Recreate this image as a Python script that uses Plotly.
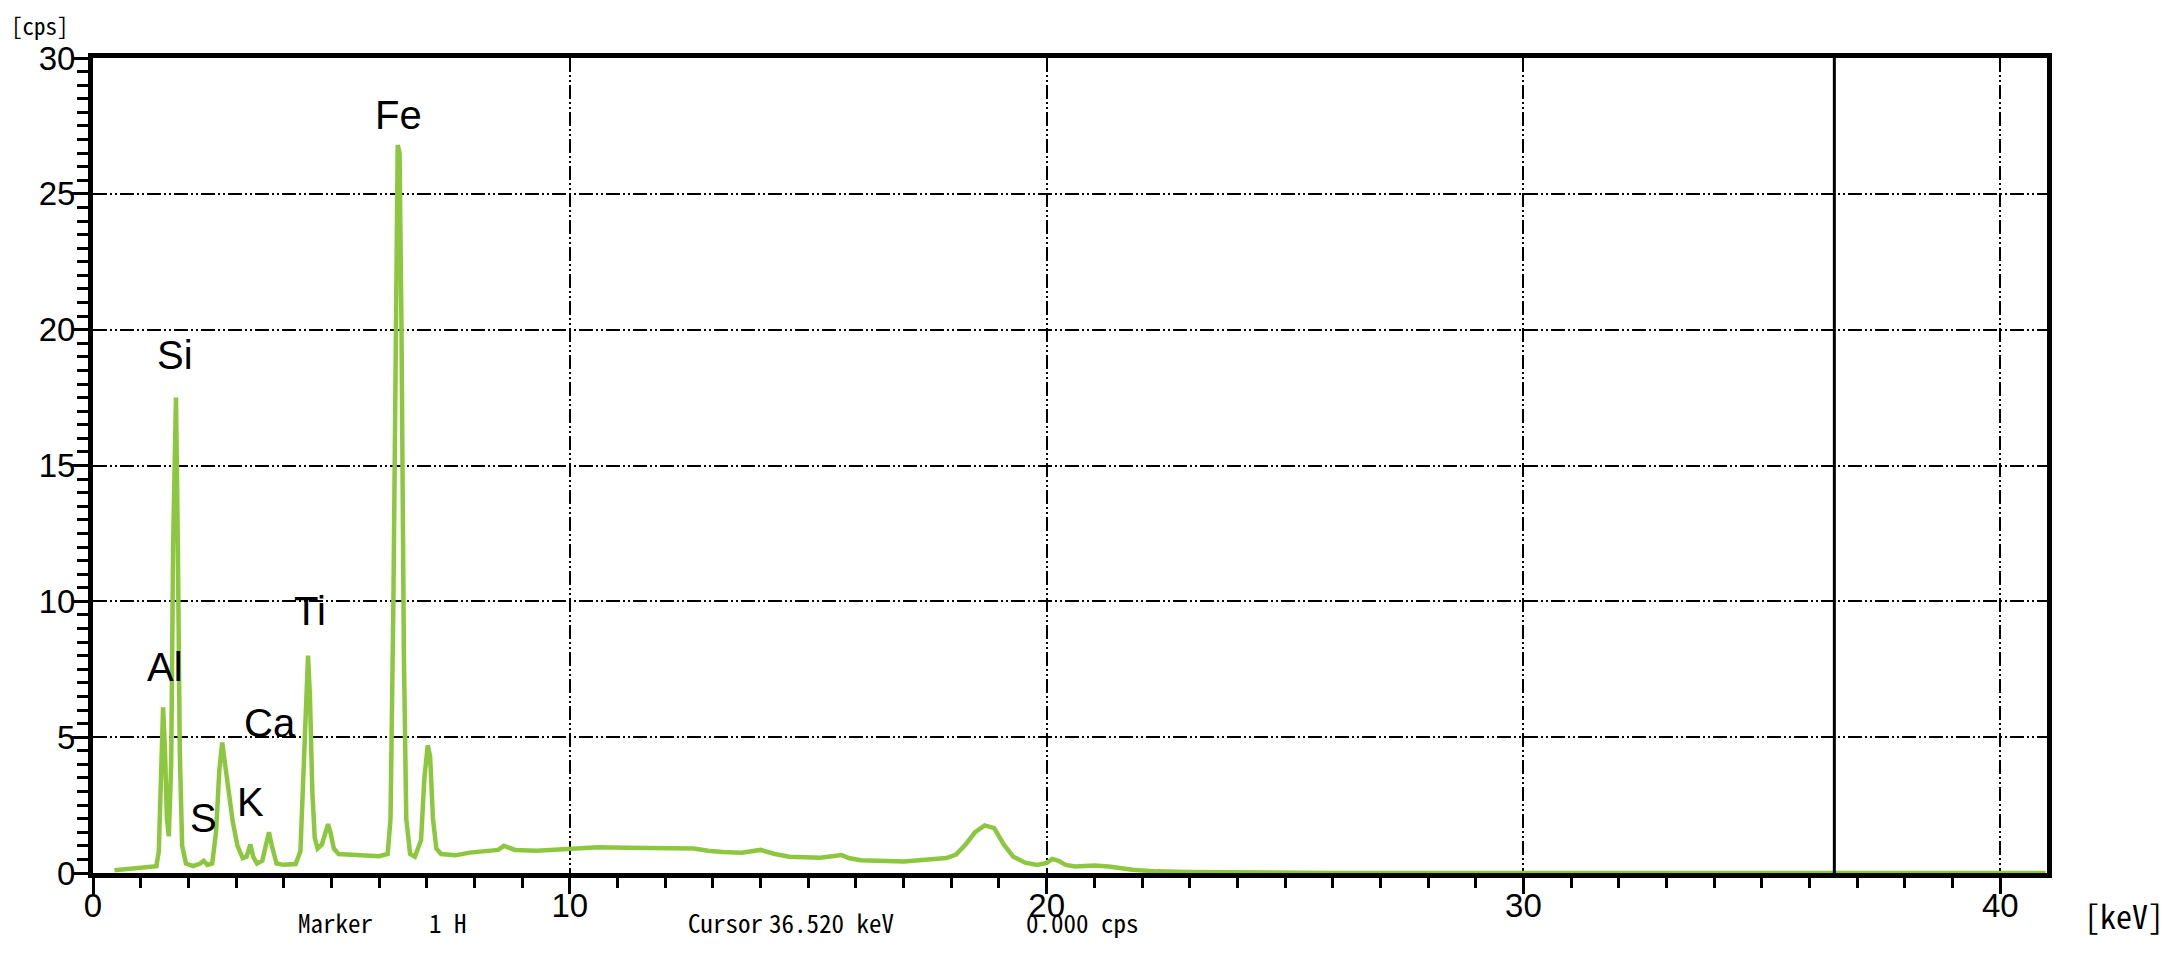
import plotly.graph_objects as go

# ---------------- data ----------------
energy_kev = [
    0.45, 0.8, 1.2, 1.33, 1.38, 1.42, 1.47, 1.51, 1.55, 1.59, 1.64, 1.68, 1.74, 1.78, 1.82, 1.87, 1.95,
    2.1, 2.25, 2.32, 2.4, 2.5, 2.58, 2.65, 2.71, 2.77, 2.84, 2.93, 3.03, 3.14, 3.22, 3.30, 3.36, 3.44,
    3.55, 3.63, 3.69, 3.75, 3.85, 4.0, 4.25, 4.35, 4.42, 4.47, 4.51, 4.55, 4.6, 4.65, 4.71, 4.8, 4.88,
    4.93, 4.98, 5.05, 5.15, 5.5, 6.0, 6.18, 6.24, 6.3, 6.35, 6.39, 6.43, 6.47, 6.52, 6.57, 6.65, 6.75,
    6.88, 6.95, 7.02, 7.07, 7.13, 7.2, 7.3, 7.6, 7.9, 8.2, 8.5, 8.62, 8.7, 8.85, 9.3, 9.8, 10.0, 10.6,
    11.2, 11.8, 12.3, 12.6, 12.9, 13.2, 13.6, 14.0, 14.3, 14.6, 15.25, 15.55, 15.7, 15.85, 16.1, 17.0,
    17.55, 17.9, 18.1, 18.3, 18.5, 18.7, 18.9, 19.1, 19.3, 19.55, 19.8, 20.0, 20.12, 20.25, 20.4, 20.6,
    21.0, 21.3, 21.8, 22.3, 23.0, 24.0, 26.0, 30.0, 35.0, 40.95,
]
counts_cps = [
    0.10, 0.15, 0.20, 0.25, 0.8, 3.5, 6.1, 4.5, 2.0, 1.35, 4.0, 12.0, 17.5, 12.0, 4.5, 1.0, 0.35,
    0.25, 0.35, 0.45, 0.3, 0.35, 1.5, 3.8, 4.8, 4.0, 3.0, 1.9, 1.0, 0.55, 0.6, 1.05, 0.6, 0.35,
    0.45, 1.1, 1.5, 1.0, 0.35, 0.3, 0.33, 0.8, 4.0, 7.0, 8.0, 6.5, 3.0, 1.3, 0.9, 1.05, 1.6,
    1.8, 1.5, 0.9, 0.7, 0.65, 0.62, 0.7, 2.0, 10.0, 20.0, 26.8, 26.5, 20.0, 8.0, 2.0, 0.7, 0.6,
    1.2, 3.5, 4.7, 4.3, 2.0, 0.9, 0.7, 0.65, 0.75, 0.8, 0.85, 1.0, 0.95, 0.85, 0.82, 0.88, 0.9, 0.95,
    0.93, 0.92, 0.88, 0.9, 0.82, 0.77, 0.75, 0.85, 0.7, 0.6, 0.56, 0.6, 0.66, 0.55, 0.47, 0.42,
    0.48, 0.55, 0.68, 1.05, 1.5, 1.75, 1.65, 1.05, 0.6, 0.38, 0.3, 0.37, 0.52, 0.45, 0.3, 0.24,
    0.28, 0.24, 0.12, 0.06, 0.04, 0.02, 0.0, 0.0, 0.0, 0.0,
]

peak_labels = ["Al", "Si", "S", "K", "Ca", "Ti", "Fe"]
peak_label_kev = [1.50, 1.73, 2.31, 3.30, 3.71, 4.55, 6.41]
peak_label_cps = [7.6, 19.06, 2.02, 2.61, 5.52, 9.64, 27.9]

x_ticks = [0, 10, 20, 30, 40]
y_ticks = [0, 5, 10, 15, 20, 25, 30]
cursor_kev = 36.520
cursor_cps = 0.000
marker_text = "1 H"

# ---------------- styling ----------------
OFF = 8                      # page body margin in the browser
W, H = 2167 - OFF, 975 - OFF
PL, PR, PT, PB = 93, 2047, 58, 873   # plot area in window pixels
L, T = PL - OFF, PT - OFF
R = W - L - (PR - PL)
B = H - T - (PB - PT)
LINE = "#8DC73F"
SANS = "Liberation Sans, Arial, sans-serif"
TICKF = "Liberation Sans, Arial, sans-serif"
MONO = "Noto Sans Mono CJK JP, Liberation Mono, DejaVu Sans Mono, monospace"
GRIDDASH = "14px,3px,2px,3px,2px,3px"

fig = go.Figure()
fig.add_trace(go.Scatter(
    x=energy_kev, y=counts_cps, mode="lines",
    line=dict(color=LINE, width=4.5), hoverinfo="skip", showlegend=False,
))

for name, xk, yc in zip(peak_labels, peak_label_kev, peak_label_cps):
    fig.add_annotation(x=xk, y=yc, text=name, showarrow=False, xref="x", yref="y",
                       font=dict(family=SANS, size=40, color="black"))

# cursor line
fig.add_shape(type="line", xref="x", yref="paper", x0=cursor_kev, x1=cursor_kev, y0=0, y1=1,
              line=dict(color="black", width=3))


def px2paper_x(px):
    return (px - PL) / (PR - PL)


def px2paper_y(py):
    return (PB - py) / (PB - PT)


def note(px, py, text, size, anchor="left"):
    fig.add_annotation(x=px2paper_x(px), y=px2paper_y(py), xref="paper", yref="paper",
                       text=text, showarrow=False, xanchor=anchor, yanchor="middle",
                       borderpad=0, font=dict(family=MONO, size=size, color="black"))


status_y = 922
note(297, status_y, "Marker", 25)
note(428, status_y, marker_text, 25)
note(687, status_y, "Cursor", 25)
note(768, status_y, f"{cursor_kev:.3f} keV", 25)
note(1025, status_y, f"{cursor_cps:.3f} cps", 25)
note(2165, 915, "[keV]", 32, anchor="right")
note(10, 25, "[cps]", 23)

fig.update_layout(
    width=W, height=H, autosize=False,
    margin=dict(l=L, r=R, t=T, b=B),
    paper_bgcolor="white", plot_bgcolor="white",
    showlegend=False,
)
fig.update_xaxes(
    range=[0, 40.98], tickvals=x_ticks, ticktext=[str(v) for v in x_ticks],
    ticks="outside", ticklen=16, tickwidth=3, tickcolor="black",
    tickfont=dict(family=TICKF, size=33, color="black"), ticklabelstandoff=-17,
    showline=True, linewidth=5, linecolor="black", mirror=True,
    showgrid=True, gridcolor="black", gridwidth=2.2, griddash=GRIDDASH,
    zeroline=False,
    minor=dict(dtick=1, tick0=0, ticks="outside", ticklen=10, tickwidth=3, tickcolor="black", showgrid=False),
)
fig.update_yaxes(
    range=[0, 30], tickvals=y_ticks, ticktext=[str(v) for v in y_ticks],
    ticks="outside", ticklen=16, tickwidth=3, tickcolor="black",
    tickfont=dict(family=TICKF, size=33, color="black"), ticklabelstandoff=-10,
    showline=True, linewidth=5, linecolor="black", mirror=True,
    showgrid=True, gridcolor="black", gridwidth=2.2, griddash=GRIDDASH,
    zeroline=False,
    minor=dict(dtick=0.5, tick0=0, ticks="outside", ticklen=11, tickwidth=3, tickcolor="black", showgrid=False),
)

fig.write_html("out.html")
